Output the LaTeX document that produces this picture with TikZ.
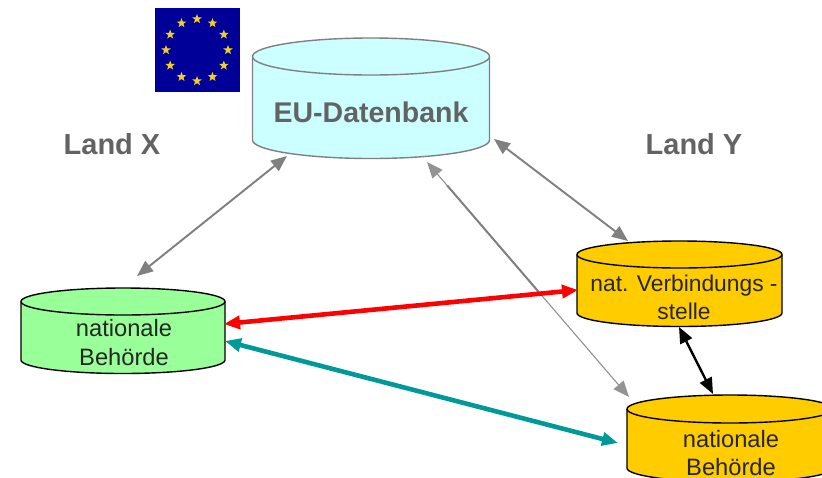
\documentclass[tikz,border=0pt]{standalone}
\usepackage{fontspec}
\setmainfont{Liberation Sans}
\usetikzlibrary{arrows.meta,shapes.geometric,calc}
\definecolor{euC}{HTML}{CCFFFF}
\definecolor{greenC}{HTML}{99FF99}
\definecolor{goldC}{HTML}{FFCC00}
\definecolor{flagC}{HTML}{000099}
\definecolor{starC}{HTML}{F0D020}
\definecolor{grayC}{HTML}{808080}
\definecolor{labelC}{HTML}{636363}
\definecolor{tealC}{HTML}{009999}
\tikzset{
  cylbody/.style={line width=1.4pt,line join=round},
  biarrow/.style={{Triangle[length=16pt,width=13pt]}-{Triangle[length=16pt,width=13pt]},line width=1.9pt},
  cyltext/.style={align=center,text=black!85},
  headline/.style={font=\bfseries\fontsize{29}{34}\selectfont,text=labelC},
  euStar/.style={star,star points=5,star point ratio=2.4,fill=starC,draw=none,minimum size=10pt,inner sep=0pt}
}
% cx, top-centre y, rx, ry, bottom-side y, fill, draw
\newcommand{\cylshape}[7]{%
  \path[cylbody,fill=#6,draw=#7] (#1-#3,#2) -- (#1-#3,#5) arc[start angle=180,end angle=0,x radius=#3,y radius=#4] -- (#1+#3,#2) arc[start angle=0,end angle=-180,x radius=#3,y radius=#4] -- cycle;
  \path[cylbody,draw=#7] (#1-#3,#2) arc[start angle=180,end angle=0,x radius=#3,y radius=#4];
}
\begin{document}
\begin{tikzpicture}[x=1pt,y=-1pt]
\useasboundingbox (0,0) rectangle (822,477);
\clip (0,0) rectangle (822,477);
\fill[white] (0,0) rectangle (822,477);

% flag
\node[fill=flagC,draw=none,minimum width=85pt,minimum height=84pt,inner sep=0pt] (flag) at (197,50) {};
\foreach \a/\n in {0/a,30/b,60/c,90/d,120/e,150/f,180/g,210/h,240/i,270/j,300/k,330/l}
  \node[euStar] (star\n) at ($(197,50)+(\a:31pt)$) {};

% cylinders
\cylshape{371}{56.5}{118.5}{18.5}{140}{euC}{grayC}
\cylshape{123}{301.5}{102}{13.5}{360}{greenC}{black}
\cylshape{679.5}{254.5}{102.5}{13.5}{313}{goldC}{black}
\cylshape{730}{409}{103}{14}{468}{goldC}{black}

% labels
\node[font=\bfseries\fontsize{28.5}{34}\selectfont,text=labelC] (eu) at (371,112) {EU-Datenbank};
\node[cyltext,font=\fontsize{23.7}{28.5}\selectfont] (nbx) at (124,342.5) {nationale\\Behörde};
\node[cyltext,font=\fontsize{22.8}{28}\selectfont] (vs) at (684,297) {nat. Verbindungs -\\stelle};
\node[cyltext,font=\fontsize{23.7}{28.5}\selectfont] (nby) at (731,453) {nationale\\Behörde};
\node[headline] (landx) at (112,144) {Land X};
\node[headline] (landy) at (694,144) {Land Y};

% connector ends
\coordinate (euSW) at (287,156);
\coordinate (xN) at (137,276);
\coordinate (euE) at (494,139);
\coordinate (vsN) at (628,241);
\coordinate (euS) at (427,162);
\coordinate (nyNW) at (629,397);
\coordinate (xE1) at (224,324);
\coordinate (vsW) at (578,290);
\coordinate (xE2) at (225,341);
\coordinate (nyW) at (618,443);
\coordinate (vsS) at (679,327);
\coordinate (nyN) at (713,394);

\draw[biarrow,draw=grayC,fill=grayC] (euSW) -- (xN);
\draw[biarrow,draw=grayC,fill=grayC] (euE) -- (vsN);
\draw[biarrow,draw=grayC!85,fill=grayC,line width=1.1pt] (euS) -- (nyNW);
\draw[draw=grayC,line width=2pt] ($(euS)!0.1!(nyNW)$) -- ($(euS)!0.55!(nyNW)$);
\draw[biarrow,draw=red,fill=red,line width=4.6pt] (xE1) -- (vsW);
\draw[biarrow,draw=tealC,fill=tealC,line width=4.6pt] (xE2) -- (nyW);
\draw[biarrow,draw=black,fill=black,line width=2.4pt] (vsS) -- (nyN);
\end{tikzpicture}
\end{document}
